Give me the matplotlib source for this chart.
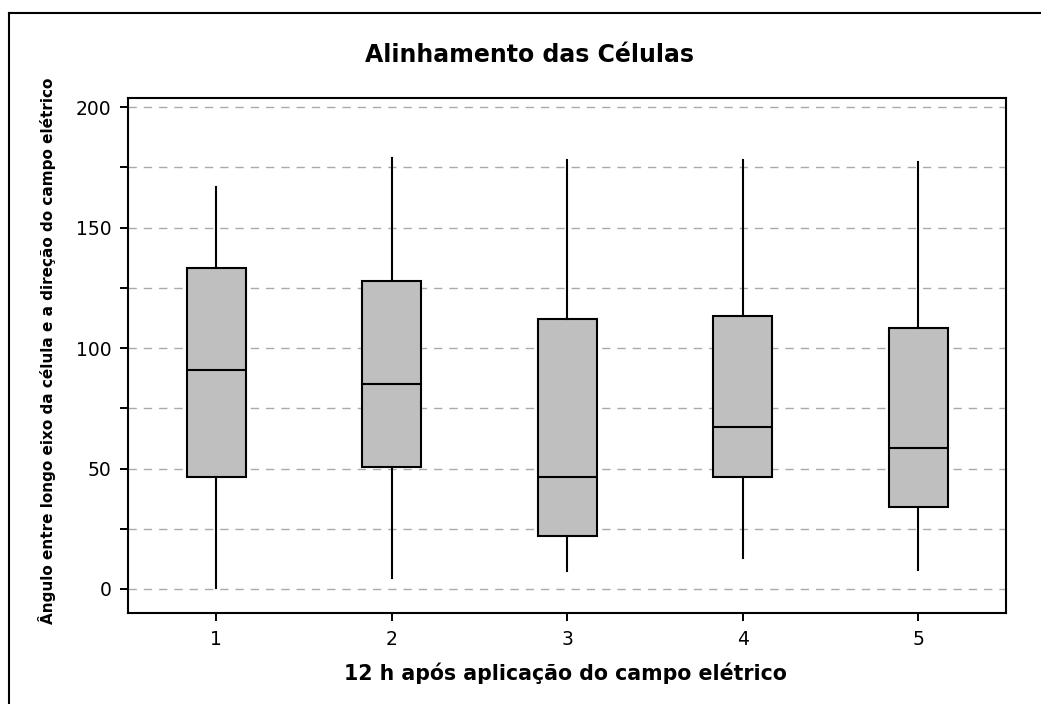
import matplotlib
matplotlib.use("Agg")
import matplotlib.pyplot as plt
from matplotlib.lines import Line2D

# box summary per group (degrees)
grupos = [1, 2, 3, 4, 5]
minimos = [0.5, 4.4, 7.5, 12.7, 7.9]
q1 = [46.4, 50.8, 22.1, 46.4, 34.2]
medianas = [90.9, 85.0, 46.4, 67.4, 58.4]
q3 = [133.2, 128.0, 112.0, 113.5, 108.2]
maximos = [166.9, 178.8, 178.1, 178.1, 177.4]

stats = []
for g, lo, a, m, b, hi in zip(grupos, minimos, q1, medianas, q3, maximos):
    stats.append({"label": str(g), "whislo": lo, "q1": a, "med": m,
                  "q3": b, "whishi": hi, "fliers": []})

plt.rcParams['font.family'] = 'DejaVu Sans'

fig = plt.figure(figsize=(10.41, 7.04), dpi=100)
ax = fig.add_axes([0.1234, 0.1288, 0.8430, 0.7316])

ax.bxp(stats, positions=grupos, widths=0.334, patch_artist=True,
       showcaps=False, showfliers=False,
       boxprops=dict(facecolor="#bfbfbf", edgecolor="black", linewidth=1.5),
       medianprops=dict(color="black", linewidth=1.5),
       whiskerprops=dict(color="black", linewidth=1.5))

ax.set_xlim(0.5, 5.5)
ax.set_ylim(-10.1, 203.7)
ax.set_yticks([0, 50, 100, 150, 200])
ax.set_yticks([25, 75, 125, 175], minor=True)
ax.grid(axis="y", which="both", color="#aaaaaa", linestyle=(0, (6, 5)), linewidth=1.0)
ax.set_axisbelow(True)

for s in ax.spines.values():
    s.set_linewidth(1.5)
ax.tick_params(axis="both", which="both", direction="out", length=5.8, width=1.4,
               pad=6.5, labelsize=13.5, colors="black")
ax.tick_params(axis="x", which="both", top=False)
ax.tick_params(axis="y", which="both", right=False)

fig.text(0.509, 0.922, "Alinhamento das Células", ha="center", va="center",
         fontsize=17, fontweight="bold")
fig.text(0.5427, 0.044, "12 h após aplicação do campo elétrico", ha="center",
         va="center", fontsize=14.8, fontweight="bold")
fig.text(47 / 1041, 1 - 351 / 704,
         "Ângulo entre longo eixo da célula e a direção do campo elétrico",
         ha="center", va="center", rotation=90, fontsize=11, fontweight="bold")

# frame around the figure (left and top edges)
fig.add_artist(Line2D([8.5 / 1041, 8.5 / 1041], [0, 1 - 12.7 / 704],
                      transform=fig.transFigure, color="black", linewidth=1.5))
fig.add_artist(Line2D([8.5 / 1041, 1], [1 - 12.7 / 704, 1 - 12.7 / 704],
                      transform=fig.transFigure, color="black", linewidth=1.5))

fig.savefig("out.png", dpi=100)
